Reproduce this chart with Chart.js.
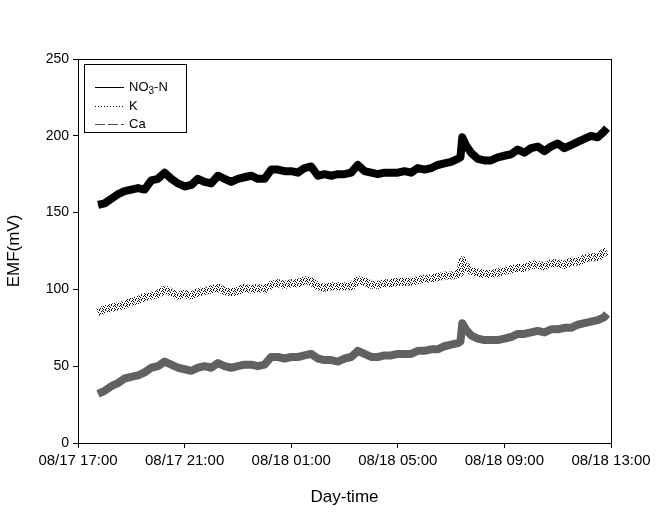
<!DOCTYPE html>
<html>
<head>
<meta charset="utf-8">
<script src="https://cdn.jsdelivr.net/npm/chart.js@4.4.1/dist/chart.umd.min.js"></script>
<style>
  html, body { margin: 0; padding: 0; background: #fff; }
  #wrap { width: 662px; height: 512px; }
</style>
</head>
<body>
<div id="wrap"><canvas id="emfChart" width="662" height="512"></canvas></div>
<script>
// hours after 08/17 17:00
var horas = [0.75, 1, 1.25, 1.5, 1.75, 2, 2.25, 2.5, 2.75, 3, 3.25, 3.5, 3.75, 4, 4.25, 4.5, 4.75, 5, 5.25, 5.5,
    5.75, 6, 6.25, 6.5, 6.75, 7, 7.25, 7.5, 7.75, 8, 8.25, 8.5, 8.75, 9, 9.25, 9.5, 9.75, 10, 10.25, 10.5,
    10.75, 11, 11.25, 11.5, 11.75, 12, 12.25, 12.5, 12.75, 13, 13.25, 13.5, 13.75, 14, 14.25, 14.35, 14.42, 14.55, 14.75, 15,
    15.25, 15.5, 15.75, 16, 16.25, 16.5, 16.75, 17, 17.25, 17.5, 17.75, 18, 18.25, 18.5, 18.75, 19, 19.25, 19.5, 19.75, 19.85];

var no3 = [155, 156, 159, 162, 164, 165, 166, 165, 171, 172, 176, 172, 169, 167, 168, 172, 170, 169, 174, 172,
    170, 172, 173, 174, 172, 172, 178, 178, 177, 177, 176, 179, 180, 174, 175, 174, 175, 175, 176, 181,
    177, 176, 175, 176, 176, 176, 177, 176, 179, 178, 179, 181, 182, 183, 185, 186, 199, 194, 189, 185,
    184, 184, 186, 187, 188, 191, 189, 192, 193, 190, 193, 195, 192, 194, 196, 198, 200, 199, 203, 205];

var potasio = [85, 87, 88, 89, 90, 92, 93, 95, 96, 97, 100, 98, 96, 97, 96, 98, 99, 100, 101, 99,
    98, 99, 101, 100, 101, 100, 103, 104, 103, 104, 104, 106, 105, 102, 101, 102, 102, 102, 102, 106,
    105, 103, 103, 104, 104, 105, 105, 105, 106, 107, 107, 108, 109, 109, 110, 111, 119, 115, 112, 111,
    110, 110, 111, 112, 113, 114, 114, 116, 116, 115, 117, 117, 116, 118, 118, 120, 121, 121, 124, 125];

var calcio = [32, 34, 37, 39, 42, 43, 44, 46, 49, 50, 53, 51, 49, 48, 47, 49, 50, 49, 52, 50,
    49, 50, 51, 51, 50, 51, 56, 56, 55, 56, 56, 57, 58, 55, 54, 54, 53, 55, 56, 60,
    58, 56, 56, 57, 57, 58, 58, 58, 60, 60, 61, 61, 63, 64, 65, 66, 78, 74, 70, 68,
    67, 67, 67, 68, 69, 71, 71, 72, 73, 72, 74, 74, 75, 75, 77, 78, 79, 80, 82, 84];

var etiquetasX = ['08/17 17:00', '08/17 21:00', '08/18 01:00', '08/18 05:00', '08/18 09:00', '08/18 13:00'];
var ticksY = [0, 50, 100, 150, 200, 250];

function puntos(valores) {
    return horas.map(function (h, i) { return { x: h, y: valores[i] }; });
}

// speckled brush for the K trace
var tile = document.createElement('canvas');
tile.width = 6; tile.height = 5;
var tctx = tile.getContext('2d');
tctx.fillStyle = '#000';
[[0, 0], [3, 0], [1, 1], [5, 1], [2, 2], [4, 3], [0, 3], [3, 4], [1, 4]].forEach(function (p) { tctx.fillRect(p[0], p[1], 1, 1); });
var ctx = document.getElementById('emfChart').getContext('2d');
var moteado = ctx.createPattern(tile, 'repeat');

var fuente = 'Arial, "Liberation Sans", sans-serif';

var marcoLeyenda = {
    id: 'marcoLeyenda',
    afterDraw: function (chart) {
        var c = chart.ctx, a = chart.chartArea;
        c.save();
        c.strokeStyle = '#000';
        c.lineWidth = 1;
        c.strokeRect(a.left + 0.5, a.top + 0.5, a.right - a.left, a.bottom - a.top);

        // legend box
        c.strokeRect(84.5, 64.5, 102, 68);
        c.font = '13px ' + fuente;
        c.fillStyle = '#000';
        c.textBaseline = 'middle';

        c.beginPath(); c.moveTo(95, 87.5); c.lineTo(124, 87.5); c.stroke();
        c.fillText('NO', 129, 87);
        var w = c.measureText('NO').width;
        c.font = '10px ' + fuente;
        c.fillText('3', 129 + w, 91);
        var w3 = c.measureText('3').width;
        c.font = '13px ' + fuente;
        c.fillText('-N', 129 + w + w3, 87);

        c.setLineDash([1, 2]);
        c.beginPath(); c.moveTo(95, 106.5); c.lineTo(124, 106.5); c.stroke();
        c.setLineDash([]);
        c.fillText('K', 129, 106);

        c.strokeStyle = '#555';
        c.setLineDash([10, 3]);
        c.beginPath(); c.moveTo(95, 124.5); c.lineTo(124, 124.5); c.stroke();
        c.setLineDash([]);
        c.fillText('Ca', 129, 124);
        c.restore();
    }
};

var myChart = new Chart(ctx, {
    type: 'line',
    data: {
        datasets: [{
            label: 'NO3-N',
            data: puntos(no3),
            borderColor: '#000',
            borderWidth: 8,
            borderJoinStyle: 'round',
            pointRadius: 0,
            tension: 0
        }, {
            label: 'K',
            data: puntos(potasio),
            borderColor: moteado,
            borderWidth: 8,
            borderJoinStyle: 'round',
            pointRadius: 0,
            tension: 0
        }, {
            label: 'Ca',
            data: puntos(calcio),
            borderColor: '#616161',
            borderWidth: 8,
            borderJoinStyle: 'round',
            pointRadius: 0,
            tension: 0
        }]
    },
    options: {
        responsive: false,
        animation: false,
        layout: { padding: { left: 0, top: 59, right: 51, bottom: 0 } },
        scales: {
            x: {
                type: 'linear',
                min: 0,
                max: 20,
                afterBuildTicks: function (axis) {
                    axis.ticks = etiquetasX.map(function (_, i) { return { value: i * 4 }; });
                },
                afterFit: function (axis) { axis.height = 69; },
                ticks: {
                    color: '#000',
                    font: { size: 15, family: fuente },
                    maxRotation: 0,
                    padding: 4,
                    callback: function (v) { return etiquetasX[v / 4]; }
                },
                grid: { drawOnChartArea: false, drawTicks: true, tickLength: 5, color: '#000' },
                border: { color: '#000' },
                title: {
                    display: true,
                    text: 'Day-time',
                    color: '#000',
                    font: { size: 17, family: fuente },
                    padding: { top: 12 }
                }
            },
            y: {
                min: 0,
                max: 250,
                afterBuildTicks: function (axis) {
                    axis.ticks = ticksY.map(function (v) { return { value: v }; });
                },
                afterFit: function (axis) { axis.width = 78; },
                ticks: {
                    color: '#000',
                    font: { size: 14, family: fuente },
                    padding: 4
                },
                grid: { drawOnChartArea: false, drawTicks: true, tickLength: 5, color: '#000' },
                border: { color: '#000' },
                title: {
                    display: true,
                    text: 'EMF(mV)',
                    color: '#000',
                    font: { size: 17, family: fuente },
                    padding: { top: 4, bottom: 2 }
                }
            }
        },
        plugins: {
            legend: { display: false },
            tooltip: { enabled: false }
        }
    },
    plugins: [marcoLeyenda]
});
</script>
</body>
</html>
